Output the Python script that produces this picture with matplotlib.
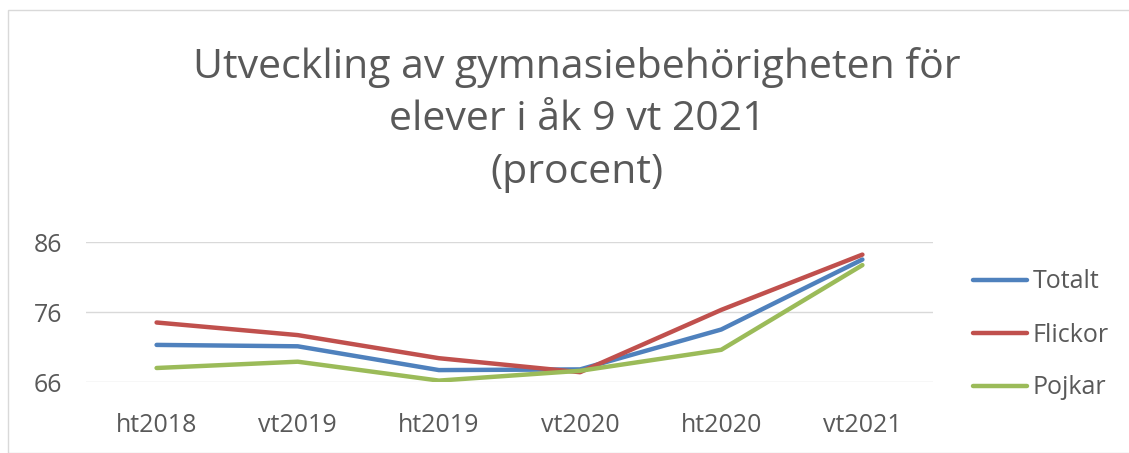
import matplotlib
matplotlib.use("Agg")
import matplotlib.pyplot as plt
from matplotlib.patches import Rectangle

categories = ["ht2018", "vt2019", "ht2019", "vt2020", "ht2020", "vt2021"]
totalt = [71.3, 71.1, 67.7, 67.8, 73.5, 83.5]
flickor = [74.5, 72.7, 69.4, 67.4, 76.3, 84.2]
pojkar = [68.0, 68.9, 66.2, 67.6, 70.6, 82.7]
yticks = [66, 76, 86]

plt.rcParams['font.family'] = ['Open Sans', 'DejaVu Sans']

fig = plt.figure(figsize=(11.29, 4.53), dpi=100)
ax = fig.add_axes([86/1129, 1-382/453, (933-86)/1129, 140/453])

x = list(range(len(categories)))
series = [("Totalt", totalt, "#4F81BD"), ("Flickor", flickor, "#C0504D"), ("Pojkar", pojkar, "#9BBB59")]
for name, vals, col in series:
    ax.plot(x, vals, color=col, lw=3.2, label=name, solid_joinstyle='round', solid_capstyle='round')

ax.set_xlim(-0.5, len(categories)-0.5)
ax.set_ylim(66, 86)
ax.set_yticks(yticks)
ax.set_xticks(x)
ax.set_xticklabels(categories)
ax.grid(axis='y', color='#D9D9D9', lw=1)
ax.set_axisbelow(True)
for s in ax.spines.values():
    s.set_visible(False)
ax.tick_params(axis='both', length=0, labelsize=18, labelcolor='#595959')
ax.tick_params(axis='x', pad=22)
ax.tick_params(axis='y', pad=17)

fig.text(577/1129, 1-120/453, "Utveckling av gymnasiebehörigheten för\nelever i åk 9 vt 2021\n(procent)",
         ha='center', va='center', fontsize=29.5, color='#595959', linespacing=1.39)

leg = fig.legend(loc='center left', bbox_to_anchor=(950/1129, 1-335/453), frameon=False,
                 fontsize=18, labelcolor='#595959', handlelength=2.16, handletextpad=0.25,
                 labelspacing=1.12)

fig.patches.append(Rectangle((8/1129, 0), 1125/1129, 1-10/453, transform=fig.transFigure,
                             fill=False, edgecolor='#D9D9D9', lw=1))

fig.savefig("out.png", dpi=100)
